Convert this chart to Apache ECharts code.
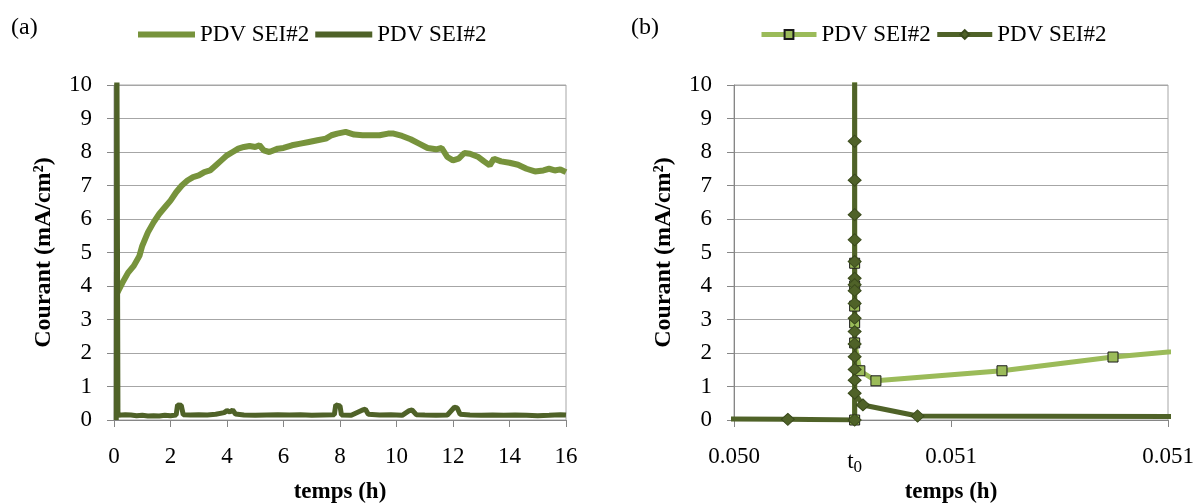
<!DOCTYPE html>
<html>
<head>
<meta charset="utf-8">
<script src="https://cdn.jsdelivr.net/npm/echarts@6.0.0/dist/echarts.min.js"></script>
<style>
  html, body { margin: 0; padding: 0; background: #fff; }
  #chart { width: 1202px; height: 503px; }
</style>
</head>
<body>
<div id="chart"></div>
<script>
// panel (a): current vs time over 16 h
const aLightTime = [0.12, 0.3, 0.5, 0.7, 0.9, 1.0, 1.2, 1.4, 1.6, 1.8, 2.0, 2.2, 2.4, 2.6, 2.8, 3.0, 3.2, 3.4, 3.6, 3.8,
  4.0, 4.2, 4.4, 4.6, 4.8, 5.0, 5.15, 5.3, 5.5, 5.8, 6.0, 6.3, 6.6, 6.9, 7.2, 7.5, 7.7, 7.9, 8.2, 8.5,
  8.8, 9.1, 9.4, 9.7, 9.9, 10.2, 10.5, 10.8, 11.1, 11.4, 11.6, 11.8, 12.0, 12.2, 12.4, 12.6, 12.9, 13.1, 13.3, 13.45,
  13.7, 14.0, 14.3, 14.6, 14.9, 15.2, 15.4, 15.6, 15.8, 16.0];
const aLightCurrent = [3.8, 4.1, 4.4, 4.6, 4.9, 5.2, 5.6, 5.9, 6.15, 6.35, 6.55, 6.8, 7.0, 7.15, 7.25, 7.3, 7.4, 7.45, 7.6, 7.75,
  7.9, 8.0, 8.1, 8.15, 8.18, 8.15, 8.2, 8.05, 8.0, 8.1, 8.12, 8.2, 8.25, 8.3, 8.35, 8.4, 8.5, 8.55, 8.6, 8.52,
  8.5, 8.5, 8.5, 8.55, 8.55, 8.48, 8.38, 8.25, 8.12, 8.08, 8.12, 7.85, 7.75, 7.8, 7.97, 7.95, 7.85, 7.72, 7.6, 7.8,
  7.72, 7.68, 7.62, 7.5, 7.42, 7.45, 7.5, 7.45, 7.48, 7.4];

const aDarkTime = [0.08, 0.1, 0.14, 0.4, 0.6, 0.8, 1.0, 1.2, 1.4, 1.6, 1.8, 2.0, 2.2, 2.25, 2.3, 2.38, 2.45, 2.7, 3.0, 3.3,
  3.6, 3.9, 4.0, 4.1, 4.2, 4.3, 4.6, 5.0, 5.4, 5.8, 6.2, 6.6, 7.0, 7.4, 7.8, 7.85, 7.92, 8.0, 8.05, 8.4,
  8.8, 8.9, 9.0, 9.4, 9.8, 10.2, 10.45, 10.55, 10.7, 11.0, 11.4, 11.8, 12.05, 12.15, 12.25, 12.6, 13.0, 13.4, 13.8, 14.2,
  14.6, 15.0, 15.4, 15.8, 16.0];
const aDarkCurrent = [0, 12, 0.14, 0.16, 0.15, 0.13, 0.14, 0.12, 0.13, 0.12, 0.14, 0.13, 0.15, 0.45, 0.48, 0.44, 0.16, 0.15, 0.16, 0.15,
  0.17, 0.22, 0.28, 0.24, 0.3, 0.18, 0.15, 0.14, 0.15, 0.16, 0.15, 0.16, 0.14, 0.15, 0.16, 0.45, 0.48, 0.42, 0.15, 0.14,
  0.3, 0.32, 0.17, 0.15, 0.16, 0.14, 0.28, 0.3, 0.16, 0.15, 0.14, 0.15, 0.38, 0.36, 0.17, 0.15, 0.14, 0.15, 0.14, 0.15,
  0.14, 0.13, 0.14, 0.16, 0.15];

// panel (b): zoom around t0
const t0 = 0.050278;
const bLightTime = [t0, t0, t0, t0, t0, t0, t0, 0.050290, 0.050327, 0.0506175, 0.0508733, 0.051140];
const bLightCurrent = [0, 12, 4.68, 4.0, 3.4, 2.9, 2.3, 1.47, 1.17, 1.47, 1.88, 2.2];

const bDarkTime = [0.04995, 0.050124, t0, t0, t0, t0, t0, t0, t0, t0, t0, t0, t0, t0, t0, t0, t0, t0, t0, t0,
  0.050297, 0.050423, 0.051150];
const bDarkCurrent = [0.03, 0.02, 0, 12, 8.32, 7.16, 6.13, 5.38, 4.73, 4.23, 4.04, 3.86, 3.48, 3.04, 2.64, 2.27, 1.89, 1.51, 1.19, 0.80,
  0.45, 0.12, 0.1];

const bTickValues = [0.0500, 0.0505, 0.0510];
const bTickLabels = ['0.050', '0.051', '0.051'];
const legendLabels = { a1: 'PDV SEI#2', a2: 'PDV SEI#2', b1: 'PDV SEI#2', b2: 'PDV SEI#2' };

const zip = (xs, ys) => xs.map((x, i) => [x, ys[i]]);

const FONT = 'Liberation Serif';
const gridColor = '#a6a6a6';
const axisColor = '#868686';

const yAxisOpt = (gridIndex) => ({
  type: 'value',
  gridIndex,
  min: 0,
  max: 10,
  interval: 1,
  name: 'Courant (mA/cm²)',
  nameLocation: 'middle',
  nameGap: 58,
  nameTextStyle: { fontFamily: FONT, fontWeight: 'bold', fontSize: 24, color: '#000' },
  axisLine: { show: true, lineStyle: { color: axisColor } },
  axisTick: { show: true, length: 7, lineStyle: { color: axisColor } },
  axisLabel: { fontFamily: FONT, fontSize: 23, color: '#000', margin: 22 },
  splitLine: { show: true, lineStyle: { color: gridColor, width: 1 } }
});

const xName = {
  name: 'temps (h)',
  nameLocation: 'middle',
  nameGap: 61,
  nameTextStyle: { fontFamily: FONT, fontWeight: 'bold', fontSize: 23, color: '#000' }
};

const legendText = { fontFamily: FONT, fontSize: 23, color: '#000' };

let chart = echarts.init(document.getElementById('chart'));
let option = {
  animation: false,
  backgroundColor: '#fff',
  title: [
    { text: '(a)', left: 6, top: 11, textStyle: { fontFamily: FONT, fontWeight: 'normal', fontSize: 24, color: '#000' } },
    { text: '(b)', left: 626, top: 11, textStyle: { fontFamily: FONT, fontWeight: 'normal', fontSize: 24, color: '#000' } }
  ],
  legend: [
    {
      data: ['a1', 'a2'],
      icon: 'rect',
      left: 133,
      top: 18,
      itemWidth: 57,
      itemHeight: 6,
      itemGap: 6,
      formatter: (name) => legendLabels[name],
      textStyle: legendText
    },
    {
      data: ['b1', 'b2'],
      left: 754,
      top: 18,
      itemWidth: 55,
      itemHeight: 11,
      itemGap: 4,
      lineStyle: { width: 5 },
      formatter: (name) => legendLabels[name],
      textStyle: legendText
    }
  ],
  grid: [
    { left: 114, right: 636, top: 85, bottom: 83, outerBoundsMode: 'none', show: true, borderColor: gridColor, borderWidth: 1 },
    { left: 734, right: 34, top: 85, bottom: 83, outerBoundsMode: 'none', show: true, borderColor: gridColor, borderWidth: 1 }
  ],
  xAxis: [
    Object.assign({
      type: 'value',
      gridIndex: 0,
      min: 0,
      max: 16,
      interval: 2,
      axisLine: { show: true, lineStyle: { color: axisColor } },
      axisTick: { show: true, length: 7, lineStyle: { color: axisColor } },
      axisLabel: { fontFamily: FONT, fontSize: 23, color: '#000', margin: 25 },
      splitLine: { show: false }
    }, xName),
    Object.assign({
      type: 'value',
      gridIndex: 1,
      min: 0.05,
      max: 0.051,
      axisLine: { show: true, lineStyle: { color: axisColor } },
      axisTick: { show: true, length: 7, customValues: bTickValues, lineStyle: { color: axisColor } },
      axisLabel: {
        fontFamily: FONT, fontSize: 23, color: '#000', margin: 25,
        customValues: [bTickValues[0], t0, bTickValues[1], bTickValues[2]],
        formatter: (v) => {
          if (Math.abs(v - t0) < 1e-9) return '{t|t}{s|0}';
          let idx = 0;
          bTickValues.forEach((tv, i) => { if (Math.abs(tv - v) < Math.abs(bTickValues[idx] - v)) idx = i; });
          return bTickLabels[idx];
        },
        rich: {
          t: { fontFamily: FONT, fontSize: 23, color: '#000', padding: [3, 0, 0, 0] },
          s: { fontFamily: FONT, fontSize: 17, color: '#000', padding: [14, 0, 0, 0] }
        }
      },
      splitLine: { show: false }
    }, xName)
  ],
  yAxis: [yAxisOpt(0), yAxisOpt(1)],
  series: [
    {
      name: 'a1', type: 'line', xAxisIndex: 0, yAxisIndex: 0,
      data: zip(aLightTime, aLightCurrent),
      symbol: 'none', lineStyle: { color: '#77933c', width: 6 }, itemStyle: { color: '#77933c' }
    },
    {
      name: 'a2', type: 'line', xAxisIndex: 0, yAxisIndex: 0,
      data: zip(aDarkTime, aDarkCurrent),
      symbol: 'none', lineStyle: { color: '#4f6228', width: 5 }, itemStyle: { color: '#4f6228' }
    },
    {
      name: 'b1', type: 'line', xAxisIndex: 1, yAxisIndex: 1,
      data: zip(bLightTime, bLightCurrent),
      symbol: 'rect', symbolSize: 10,
      lineStyle: { color: '#9bbb59', width: 5 },
      itemStyle: { color: '#9bbb59', borderColor: '#1a1a1a', borderWidth: 1 }
    },
    {
      name: 'b2', type: 'line', xAxisIndex: 1, yAxisIndex: 1,
      data: zip(bDarkTime, bDarkCurrent),
      symbol: 'diamond', symbolSize: [13, 12],
      lineStyle: { color: '#4f6228', width: 5 },
      itemStyle: { color: '#4f6228', borderColor: '#3a4a1c', borderWidth: 1 }
    }
  ]
};
option && chart.setOption(option);
</script>
</body>
</html>
